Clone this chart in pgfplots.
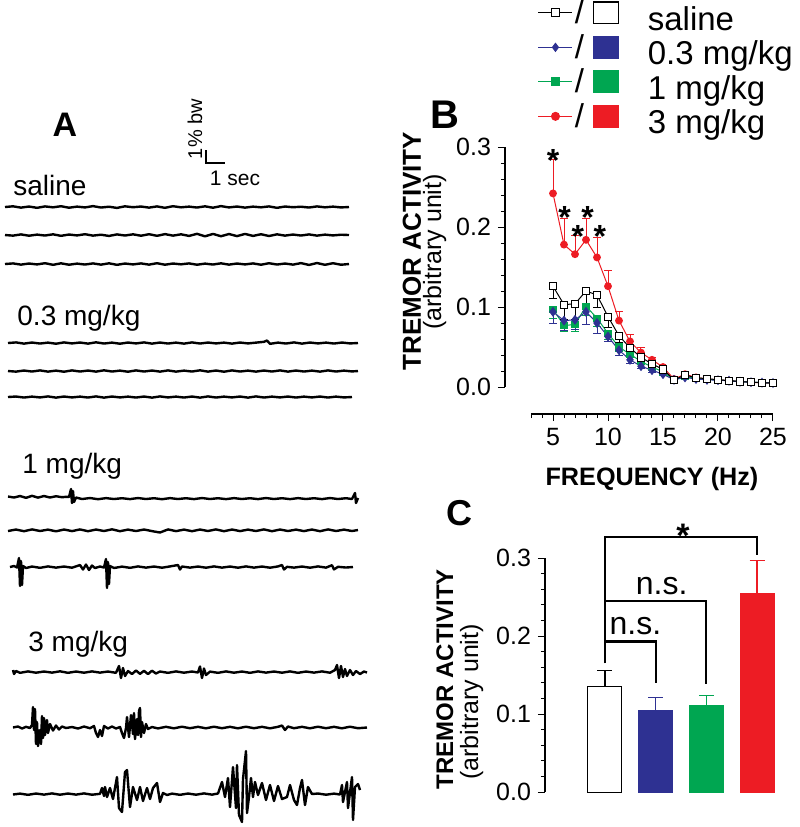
\documentclass[border=0pt]{standalone}
\usepackage{fontspec}
\setmainfont{Liberation Sans}
\usepackage{pgfplots}
\usepackage{pgfplotstable}
\pgfplotsset{compat=1.18}

\definecolor{cblue}{RGB}{46,49,146}
\definecolor{cgreen}{RGB}{0,166,81}
\definecolor{cred}{RGB}{237,28,36}

% tremor spectra: freq, mean, sem
\pgfplotstableread{
x y e
5 0.242 0.043
6 0.178 0.033
7 0.166 0.024
8 0.184 0.027
9 0.162 0.025
10 0.126 0.020
11 0.083 0.012
12 0.057 0.009
13 0.043 0.006
14 0.034 0.003
15 0.025 0.002
16 0.010 0.001
17 0.016 0.002
18 0.012 0.001
19 0.010 0.001
20 0.009 0
21 0.008 0
22 0.007 0
23 0.006 0
24 0.005 0
25 0.005 0
}\redtab
\pgfplotstableread{
x y e
5 0.126 0.015
6 0.103 0.018
7 0.104 0.020
8 0.120 0.020
9 0.115 0.015
10 0.088 0.013
11 0.064 0.008
12 0.049 0.005
13 0.037 0.004
14 0.029 0.003
15 0.022 0.002
16 0.009 0.001
17 0.015 0.001
18 0.0115 0.001
19 0.0105 0.001
20 0.009 0
21 0.008 0
22 0.0068 0
23 0.006 0
24 0.0055 0
25 0.005 0
}\saltab
\pgfplotstableread{
x y e
5 0.094 0.015
6 0.083 0.012
7 0.084 0.012
8 0.094 0.016
9 0.080 0.013
10 0.063 0.006
11 0.046 0.007
12 0.034 0.004
13 0.026 0.003
14 0.021 0.003
15 0.016 0.002
16 0.009 0.001
17 0.012 0.001
18 0.010 0.001
19 0.009 0
20 0.0085 0
21 0.0078 0
22 0.0066 0
23 0.006 0
24 0.0054 0
25 0.005 0
}\bluetab
\pgfplotstableread{
x y e
5 0.097 0.011
6 0.077 0.008
7 0.078 0.009
8 0.101 0.012
9 0.086 0.010
10 0.067 0.007
11 0.050 0.005
12 0.041 0.004
13 0.032 0.003
14 0.025 0.002
15 0.019 0.002
16 0.009 0.001
17 0.013 0.001
18 0.011 0.001
19 0.0095 0
20 0.0088 0
21 0.008 0
22 0.0067 0
23 0.006 0
24 0.0054 0
25 0.005 0
}\greentab

\newcommand{\legimg}[5]{% line colour, mark, mark fill, box draw, box fill
  \draw[#1, line width=0.5pt, mark=#2, mark size=2pt, mark repeat=2, mark phase=2,
        mark options={fill=#3, solid}] plot coordinates {(0pt,5.4pt) (8.5pt,5.4pt) (17pt,5.4pt)};
  \node[anchor=base, inner sep=0pt, black, font=\fontsize{16.5}{18}\selectfont] at (20.5pt,0pt) {/};
  \filldraw[draw=#4, fill=#5, line width=0.6pt] (27.5pt,0pt) rectangle (40pt,10.8pt);
  \path (54.5pt,0pt);
}

\pgfplotsset{trace/.style={black, no markers, line width=1.2pt, line join=round}}

\begin{document}
\begin{tikzpicture}
\useasboundingbox (0,0) rectangle (400pt,-413.5pt);

%% ---------- A: raw traces (pixel units) ----------
\begin{axis}[at={(0pt,0pt)}, anchor=north west, scale only axis,
  width=200pt, height=413.5pt, xmin=0, xmax=400, ymin=0, ymax=827,
  y dir=reverse, hide axis, clip=false]
% saline
\addplot[trace] coordinates {(5,207)(13,206.3)(21,207.6)(29,206.5)(37,207.8)(45,206.4)(53,207.3)(61,206.2)(69,207.7)(77,206.6)(85,207.4)(93,206.1)(101,207.5)(109,206.7)(117,207.9)(125,206.3)(133,207.2)(141,206.5)(149,207.6)(157,206.4)(165,207.8)(173,206.2)(181,207.3)(189,206.6)(197,207.5)(205,206.3)(213,207.7)(221,206.1)(229,207.4)(237,206.5)(245,207.6)(253,206.6)(261,207.3)(269,206.4)(277,207.8)(285,206.5)(293,207.2)(301,206.7)(309,207.5)(317,206.4)(325,207.3)(333,206.6)(341,207.4)(349,207)};
\addplot[trace] coordinates {(5,235)(13,235.6)(21,234.4)(29,235.7)(37,234.6)(45,235.5)(53,234.3)(61,235.8)(69,234.5)(77,235.4)(85,234.2)(93,235.6)(101,234.7)(109,235.9)(117,234.4)(125,235.5)(133,234.3)(141,235.7)(149,234.2)(157,235.8)(165,234.1)(173,235.6)(181,234.3)(189,235.9)(197,233.8)(205,236.3)(213,233.9)(221,236.2)(229,234.0)(237,236.1)(245,233.9)(253,235.9)(261,234.2)(269,236.0)(277,234.3)(285,235.6)(293,234.5)(301,235.5)(309,234.4)(317,235.6)(325,234.6)(333,235.4)(341,234.7)(349,235)};
\addplot[trace] coordinates {(5,264)(13,263.4)(21,264.6)(29,263.5)(37,264.4)(45,263.2)(53,264.8)(61,263.3)(69,264.7)(77,263.6)(85,264.5)(93,263.4)(101,264.6)(109,263.3)(117,264.8)(125,263.5)(133,264.4)(141,263.4)(149,264.6)(157,263.2)(165,264.7)(173,263.5)(181,264.3)(189,263.4)(197,264.7)(205,263.6)(213,264.5)(221,263.3)(229,264.6)(237,263.5)(245,264.4)(253,263.4)(261,264.7)(269,263.2)(277,264.5)(285,263.5)(293,264.6)(301,263.1)(309,264.9)(317,263.0)(325,264.8)(333,263.2)(341,264.7)(349,264)};
% 0.3 mg/kg
\addplot[trace] coordinates {(8,343)(16,342.4)(24,343.6)(32,342.5)(40,343.5)(48,342.6)(56,343.7)(64,342.4)(72,343.4)(80,342.5)(88,343.6)(96,342.3)(104,343.5)(112,342.6)(120,343.7)(128,342.5)(136,343.4)(144,342.4)(152,343.6)(160,342.5)(168,343.5)(176,342.6)(184,343.6)(192,342.4)(200,343.5)(208,342.5)(216,343.4)(224,342.6)(232,343.6)(240,342.5)(248,343.4)(256,342.6)(264,341.8)(267,340.5)(270,343.8)(278,342.6)(286,343.5)(294,342.4)(302,343.6)(310,342.5)(318,343.4)(326,342.6)(334,343.5)(342,342.5)(350,343.4)(358,343)};
\addplot[trace] coordinates {(8,371)(16,371.6)(24,370.5)(32,371.5)(40,370.4)(48,371.6)(56,370.6)(64,371.7)(72,370.4)(80,371.5)(88,370.5)(96,371.6)(104,370.3)(112,371.5)(120,370.6)(128,371.7)(136,370.4)(144,371.5)(152,370.5)(160,371.6)(168,370.4)(176,371.6)(184,370.6)(192,371.5)(200,370.3)(208,371.6)(216,370.5)(224,371.7)(232,370.4)(240,371.5)(248,370.6)(256,371.6)(264,370.5)(272,371.5)(280,370.4)(288,371.6)(296,370.5)(304,371.5)(312,370.6)(320,371.6)(328,370.4)(336,371.5)(344,370.6)(352,371.4)(358,371)};
\addplot[trace] coordinates {(8,397)(16,396.5)(24,397.5)(32,396.6)(40,397.4)(48,396.4)(56,397.6)(64,396.5)(72,397.4)(80,396.6)(88,397.5)(96,396.4)(104,397.6)(112,396.5)(120,397.4)(128,396.6)(136,397.5)(144,396.5)(152,397.6)(160,396.4)(168,397.4)(176,396.6)(184,397.5)(192,396.5)(200,397.6)(208,396.4)(216,397.5)(224,396.6)(232,397.4)(240,396.5)(248,397.6)(256,396.4)(264,397.5)(272,396.6)(280,397.4)(288,396.5)(296,397.5)(304,396.6)(312,397.4)(320,396.5)(328,397.5)(336,396.6)(344,397.4)(352,397)};
% 1 mg/kg
\addplot[trace] coordinates {(8,496.5)(14,497.5)(20,496)(26,497.8)(32,495.8)(38,497.6)(44,496)(50,497.5)(56,496.2)(62,497.2)(66,496.8)(69,497)(71,489)(72,503)(73,491)(74,502)(76,497.5)(82,499)(90,498)(98,499.2)(106,498.1)(114,499)(122,498.2)(130,499.1)(138,498)(146,499)(154,498.2)(162,499.2)(170,498.1)(178,499)(186,498.2)(194,499.1)(202,498)(210,499)(218,498.2)(226,499.1)(234,498.1)(242,499)(250,498.2)(258,499.1)(266,498)(274,499)(282,498.2)(290,499.1)(298,498.1)(306,499)(314,498.2)(322,499.1)(330,498)(338,499)(346,498.2)(352,499)(355,493)(356,503)(358,498)};
\addplot[trace] coordinates {(8,531)(16,529.5)(24,531.2)(32,529.4)(40,531)(48,529.6)(56,531.3)(64,529.5)(72,531.1)(80,529.4)(88,531.2)(96,529.5)(104,531)(112,529.3)(120,531.2)(128,529.6)(136,531)(144,529.5)(152,531.1)(160,532.5)(168,529.4)(176,531.1)(184,529.6)(192,531.2)(200,529.5)(208,531)(216,529.4)(224,531.2)(232,529.5)(240,531.1)(248,529.6)(256,531)(264,529.4)(272,531.2)(280,529.5)(288,531)(296,529.6)(304,531.1)(312,529.5)(320,531.2)(328,529.4)(336,531)(344,529.6)(352,531)(358,530)};
\addplot[trace] coordinates {(10,567)(14,566)(17,567.5)(19,558)(20,586)(21,561)(22,585)(23,566)(26,568)(32,566.5)(40,567.8)(48,566.4)(56,567.6)(64,566.5)(72,567.7)(80,565)(83,569.5)(86,564.5)(89,570)(92,565.5)(95,568)(100,566.5)(104,567.5)(106,559)(107,588)(108,562)(109,584)(110,566)(114,568)(122,566.6)(130,567.8)(138,566.4)(146,567.6)(154,566.5)(162,567.7)(170,566.4)(178,565)(180,569.5)(182,566.5)(190,567.6)(198,566.5)(206,567.7)(214,566.4)(222,567.6)(230,566.5)(238,567.7)(246,566.4)(254,567.6)(262,566.5)(270,567.7)(278,566.4)(282,565)(284,569.5)(287,566.8)(294,567.6)(302,566.5)(310,567.7)(318,566.4)(326,567.6)(332,565.2)(334,569.4)(338,566.8)(346,567.5)(353,567)};
% 3 mg/kg
\addplot[trace] coordinates {(13,670)(14,674)(16,671)(20,672.8)(28,671.4)(36,672.7)(44,671.5)(52,672.6)(60,671.3)(68,672.8)(76,671.5)(84,672.7)(92,671.4)(100,672.6)(108,671.5)(116,672.8)(119,666)(121,678)(123,668)(125,676)(128,671)(132,674)(136,670.5)(140,673.8)(144,670.8)(148,674)(152,670.7)(156,673.5)(160,671.5)(168,672.8)(176,671.4)(184,672.7)(192,671.5)(198,672.5)(200,666.5)(202,678)(204,668.5)(206,675)(210,671.6)(218,672.8)(226,671.4)(234,672.7)(242,671.5)(250,672.8)(258,671.4)(266,672.6)(274,671.5)(282,672.7)(290,671.4)(298,672.8)(306,671.5)(314,672.6)(322,671.4)(330,672.7)(335,670)(337,665)(339,678)(341,666)(343,677)(345,669)(347,676)(350,670)(353,675)(356,671)(360,674)(364,671.5)(367,672.5)};
\addplot[trace] coordinates {(13,727.5)(18,726.5)(22,728.5)(26,726.8)(30,728)(32,725)(33,707)(34,730)(35,709)(36,744)(37,722)(38,746)(40,730)(41,744)(42,716)(43,738)(44,718)(45,735)(47,720)(48,733)(50,724)(53,730.5)(56,725.5)(59,729.5)(62,726.5)(66,728)(72,727)(78,728.5)(84,726.5)(90,728.2)(94,726)(96,733)(98,737)(100,730)(102,736)(104,726)(108,728.5)(112,726.5)(116,728.5)(120,727)(122,733)(124,738)(126,728)(127,717)(129,737)(131,715)(133,734)(134,713)(135,739)(137,719)(138,735)(139,711)(140,708)(141,737)(142,722)(144,733)(146,724)(148,729)(152,727)(158,728.4)(166,726.8)(174,728.3)(182,726.7)(190,728.2)(198,726.8)(206,728.3)(214,726.7)(222,728.2)(230,726.8)(238,728.3)(246,726.7)(254,728.2)(262,726.8)(270,728.3)(278,726.8)(282,725.5)(285,730)(288,726.5)(294,728.2)(302,726.8)(310,728.3)(318,726.7)(326,728.2)(334,726.8)(342,728.3)(350,726.7)(358,728.2)(367,727.5)};
\addplot[trace] coordinates {(13,794.5)(20,793.6)(28,794.8)(36,793.5)(44,794.6)(52,793.4)(60,794.7)(68,793.5)(76,794.6)(84,793.4)(92,794.7)(100,793.8)(102,788)(104,796)(105,787)(107,797)(110,788)(113,799)(117,777)(119,808)(122,812)(125,772)(127,770)(130,807)(133,787)(137,800)(140,787)(143,801)(147,788)(150,799)(153,788)(157,783)(160,802)(163,793)(167,795)(172,793.6)(180,794.8)(188,793.5)(196,794.7)(204,793.4)(212,794.6)(218,793.5)(222,782)(225,797)(228,778)(230,807)(233,767)(236,808)(237,765)(239,815)(242,822)(243,779)(246,751)(247,813)(249,797)(251,778)(253,797)(255,782)(258,795)(262,783)(266,800)(270,785)(274,801)(278,786)(282,799)(287,797)(290,785)(294,800)(297,805)(300,788)(302,780)(305,805)(308,787)(312,794)(318,793.5)(326,794.7)(334,793.6)(340,794.5)(342,785)(343,802)(347,782)(348,808)(352,777)(353,820)(355,787)(358,784)(360,790)};
% scale bar
\draw[line width=0.6pt] (axis cs:206,150) -- (axis cs:206,163) -- (axis cs:225,163);
\end{axis}

%% ---------- B: spectra ----------
\begin{axis}[at={(252.5pt,-207pt)}, anchor=south west, scale only axis,
  width=134pt, height=133.5pt,
  xmin=0.636, xmax=25, ymin=-0.03375, ymax=0.3,
  axis lines*=left, axis line style={draw=none}, clip=false,
  tick align=outside, major tick length=3.5pt, minor tick length=2pt,
  tick style={black, line width=0.5pt},
  xtick={5,10,15,20,25},
  minor xtick={3,4,6,7,8,9,11,12,13,14,16,17,18,19,21,22,23,24},
  ytick={0,0.1,0.2,0.3},
  minor ytick={0.02,0.04,0.06,0.08,0.12,0.14,0.16,0.18,0.22,0.24,0.26,0.28},
  /pgf/number format/assume math mode=true,
  ticklabel style={font=\fontsize{12.5}{14}\selectfont},
  yticklabel style={/pgf/number format/.cd, fixed, fixed zerofill, precision=1},
  legend style={at={(axis description cs:0.1231,1.552)}, anchor=north west,
    draw=none, fill=none, inner sep=0pt, outer sep=0pt, row sep=-3.5pt, column sep=0pt,
    font=\fontsize{16.5}{18}\selectfont,
    nodes={inner sep=0pt, text height=12pt, text depth=5.5pt}},
  legend cell align=left]
\addlegendimage{legend image code/.code={\legimg{black}{square*}{white}{black}{white}}}
\addlegendentry{saline}
\addlegendimage{legend image code/.code={\legimg{cblue}{diamond*}{cblue}{cblue}{cblue}}}
\addlegendentry{0.3 mg/kg}
\addlegendimage{legend image code/.code={\legimg{cgreen}{square*}{cgreen}{cgreen}{cgreen}}}
\addlegendentry{1 mg/kg}
\addlegendimage{legend image code/.code={\legimg{cred}{*}{cred}{cred}{cred}}}
\addlegendentry{3 mg/kg}

\addplot[forget plot, cred, line width=0.5pt, mark=*, mark size=1.7pt,
  error bars/.cd, y dir=plus, y explicit, error bar style={cred, line width=0.5pt},
  error mark options={rotate=90, mark size=1.8pt, cred, line width=0.5pt}]
  table[x=x, y=y, y error=e] {\redtab};
\addplot[forget plot, cgreen, line width=0.5pt, mark=square*, mark size=1.6pt,
  error bars/.cd, y dir=minus, y explicit, error bar style={cgreen, line width=0.5pt},
  error mark options={rotate=90, mark size=1.8pt, cgreen, line width=0.5pt}]
  table[x=x, y=y, y error=e] {\greentab};
\addplot[forget plot, cblue, line width=0.5pt, mark=diamond*, mark size=2.1pt,
  error bars/.cd, y dir=minus, y explicit, error bar style={cblue, line width=0.5pt},
  error mark options={rotate=90, mark size=1.8pt, cblue, line width=0.5pt}]
  table[x=x, y=y, y error=e] {\bluetab};
\addplot[forget plot, black, line width=0.5pt, mark=square*, mark size=1.8pt,
  mark options={fill=white},
  error bars/.cd, y dir=minus, y explicit, error bar style={black, line width=0.5pt},
  error mark options={rotate=90, mark size=1.8pt, black, line width=0.5pt}]
  table[x=x, y=y, y error=e] {\saltab};

\draw[line width=0.6pt] (axis cs:0.636,0) -- (axis cs:0.636,0.3);
\draw[line width=0.6pt] (axis cs:3,-0.03375) -- (axis cs:25,-0.03375);
\begin{scope}[every node/.style={anchor=base, inner sep=0pt, font=\bfseries\fontsize{16}{16}\selectfont}]
\node at (axis cs:5.0,0.269) {*};
\node at (axis cs:6.05,0.198) {*};
\node at (axis cs:7.25,0.175) {*};
\node at (axis cs:8.15,0.198) {*};
\node at (axis cs:9.25,0.175) {*};
\end{scope}
\end{axis}

%% ---------- C: mean tremor ----------
\begin{axis}[at={(272.5pt,-396pt)}, anchor=south west, scale only axis,
  width=122.5pt, height=117pt,
  xmin=-0.183, xmax=4.65, ymin=0, ymax=0.3,
  axis y line*=left, axis x line=none, clip=false,
  axis line style={line width=0.6pt},
  tick align=outside, major tick length=3.5pt, minor tick length=2pt,
  tick style={black, line width=0.5pt},
  ytick={0,0.1,0.2,0.3},
  minor ytick={0.02,0.04,0.06,0.08,0.12,0.14,0.16,0.18,0.22,0.24,0.26,0.28},
  /pgf/number format/assume math mode=true,
  ticklabel style={font=\fontsize{12.5}{14}\selectfont},
  yticklabel style={/pgf/number format/.cd, fixed, fixed zerofill, precision=1}]
\addplot[ybar, bar width=17pt, bar shift=0pt, draw=black, fill=white, line width=0.5pt,
  error bars/.cd, y dir=plus, y explicit, error bar style={black, line width=0.6pt},
  error mark options={rotate=90, mark size=3.75pt, black, line width=0.6pt}]
  coordinates {(1,0.135) +- (0,0.021)};
\addplot[ybar, bar width=17pt, bar shift=0pt, draw=cblue, fill=cblue, line width=0.5pt,
  error bars/.cd, y dir=plus, y explicit, error bar style={cblue, line width=0.6pt},
  error mark options={rotate=90, mark size=3.75pt, cblue, line width=0.6pt}]
  coordinates {(2,0.104) +- (0,0.017)};
\addplot[ybar, bar width=17pt, bar shift=0pt, draw=cgreen, fill=cgreen, line width=0.5pt,
  error bars/.cd, y dir=plus, y explicit, error bar style={cgreen, line width=0.6pt},
  error mark options={rotate=90, mark size=3.75pt, cgreen, line width=0.6pt}]
  coordinates {(3,0.111) +- (0,0.013)};
\addplot[ybar, bar width=17pt, bar shift=0pt, draw=cred, fill=cred, line width=0.5pt,
  error bars/.cd, y dir=plus, y explicit, error bar style={cred, line width=0.6pt},
  error mark options={rotate=90, mark size=3.75pt, cred, line width=0.6pt}]
  coordinates {(4,0.255) +- (0,0.042)};
\draw[line width=1.1pt] (axis cs:1,0.165) -- (axis cs:1,0.327) -- (axis cs:4,0.327) -- (axis cs:4,0.304);
\draw[line width=1.1pt] (axis cs:1,0.245) -- (axis cs:3,0.245) -- (axis cs:3,0.139);
\draw[line width=1.1pt] (axis cs:1,0.193) -- (axis cs:2,0.193) -- (axis cs:2,0.140);
\node[anchor=base, inner sep=0pt, font=\bfseries\fontsize{17}{17}\selectfont] at (axis cs:2.54,0.313) {*};
\node[anchor=base, inner sep=0pt, font=\fontsize{16}{16}\selectfont] at (axis cs:2.12,0.253) {n.s.};
\node[anchor=base, inner sep=0pt, font=\fontsize{16}{16}\selectfont] at (axis cs:1.6,0.2015) {n.s.};
\end{axis}

%% ---------- text ----------
\begin{scope}[every node/.style={inner sep=0pt}]
\node[anchor=base, font=\bfseries\fontsize{17}{17}\selectfont] at (32.5pt,-68pt) {A};
\node[anchor=base, font=\bfseries\fontsize{20}{20}\selectfont] at (222.5pt,-64pt) {B};
\node[anchor=base, font=\bfseries\fontsize{18}{18}\selectfont] at (229.75pt,-262.5pt) {C};
\node[anchor=base, rotate=90, font=\fontsize{10}{10}\selectfont] at (101pt,-64.5pt) {1\% bw};
\node[anchor=base, font=\fontsize{10.5}{10.5}\selectfont] at (117.5pt,-92.5pt) {1 sec};
\node[anchor=base west, font=\fontsize{14}{14}\selectfont] at (6.5pt,-97.5pt) {saline};
\node[anchor=base west, font=\fontsize{14}{14}\selectfont] at (8.5pt,-162.5pt) {0.3 mg/kg};
\node[anchor=base west, font=\fontsize{14}{14}\selectfont] at (11pt,-236.5pt) {1 mg/kg};
\node[anchor=base west, font=\fontsize{14}{14}\selectfont] at (14pt,-325.5pt) {3 mg/kg};
\node[anchor=base, rotate=90, font=\bfseries\fontsize{13}{13}\selectfont] at (210.5pt,-125.5pt) {TREMOR ACTIVITY};
\node[anchor=base, rotate=90, font=\fontsize{12.5}{12.5}\selectfont] at (220.5pt,-126pt) {(arbitrary unit)};
\node[anchor=base, font=\bfseries\fontsize{12.6}{12.6}\selectfont] at (326pt,-242.5pt) {FREQUENCY (Hz)};
\node[anchor=base, rotate=90, font=\bfseries\fontsize{12}{12}\selectfont] at (226.5pt,-339.5pt) {TREMOR ACTIVITY};
\node[anchor=base, rotate=90, font=\fontsize{12.5}{12.5}\selectfont] at (239pt,-351pt) {(arbitrary unit)};
\end{scope}
\end{tikzpicture}
\end{document}
